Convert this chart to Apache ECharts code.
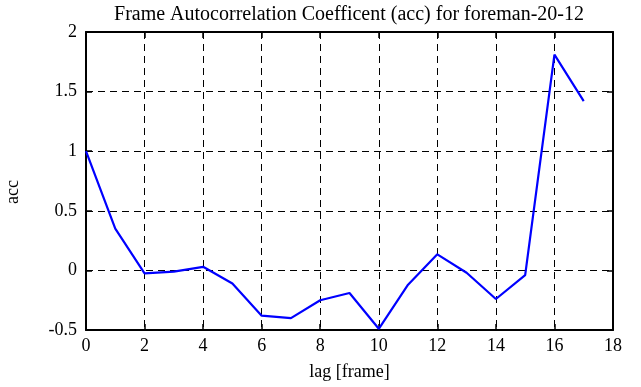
<!DOCTYPE html>
<html><head><meta charset="utf-8">
<script src="https://cdn.jsdelivr.net/npm/echarts@6/dist/echarts.min.js"></script>
<style>html,body{margin:0;padding:0;background:#fff}#c{width:641px;height:387px}</style>
</head><body><div id="c"></div>
<script>
const lags = [0,1,2,3,4,5,6,7,8,9,10,11,12,13,14,15,16,17];
const acc = [1.0,0.35,-0.025,-0.01,0.03,-0.11,-0.38,-0.40,-0.25,-0.19,-0.49,-0.12,0.135,-0.02,-0.24,-0.04,1.81,1.42];
const xTicks = [0,2,4,6,8,10,12,14,16,18];
const yTicks = [-0.5,0,0.5,1,1.5,2];
const titleText = 'Frame Autocorrelation Coefficent (acc) for foreman-20-12';
const xName = 'lag [frame]';
const yName = 'acc';

const font = 'Liberation Serif';
const chart = echarts.init(document.getElementById('c'));
const axisLine = {show:true, onZero:false, lineStyle:{color:'#000', width:2}};
const tick = {show:true, inside:true, length:6, lineStyle:{color:'#000', width:1.5}};
chart.setOption({
  animation:false,
  title:{text:titleText, left:344, textAlign:'center', top:0, textStyle:{fontFamily:font, fontSize:20, fontWeight:'normal', color:'#000'}},
  grid:{left:86, right:28, top:32, bottom:57, containLabel:false, outerBoundsMode:'none'},
  xAxis:[{
    type:'value', min:0, max:18, interval:2, position:'bottom',
    name:xName, nameLocation:'middle', nameGap:33,
    nameTextStyle:{fontFamily:font, fontSize:18, color:'#000'},
    axisLine:axisLine, axisTick:tick,
    axisLabel:{fontFamily:font, fontSize:18, color:'#000', margin:7},
    splitLine:{show:true, lineStyle:{color:'#000', type:[7,5], width:1}}
  },{
    type:'value', min:0, max:18, interval:2, position:'top',
    axisLine:axisLine, axisTick:tick,
    axisLabel:{show:false}, splitLine:{show:false}
  }],
  yAxis:[{
    type:'value', min:-0.5, max:2, interval:0.5, position:'left',
    name:yName, nameLocation:'middle', nameGap:64, nameRotate:90,
    nameTextStyle:{fontFamily:font, fontSize:18, color:'#000', padding:[0,22,0,0]},
    axisLine:axisLine, axisTick:tick,
    axisLabel:{fontFamily:font, fontSize:18, color:'#000', margin:9},
    splitLine:{show:true, lineStyle:{color:'#000', type:[7,5], width:1}}
  },{
    type:'value', min:-0.5, max:2, interval:0.5, position:'right',
    axisLine:axisLine, axisTick:tick,
    axisLabel:{show:false}, splitLine:{show:false}
  }],
  series:[{
    type:'line', data:lags.map((l,i)=>[l,acc[i]]), showSymbol:false,
    lineStyle:{color:'#0000ff', width:2.2}, itemStyle:{color:'#0000ff'}
  }]
});
</script></body></html>
